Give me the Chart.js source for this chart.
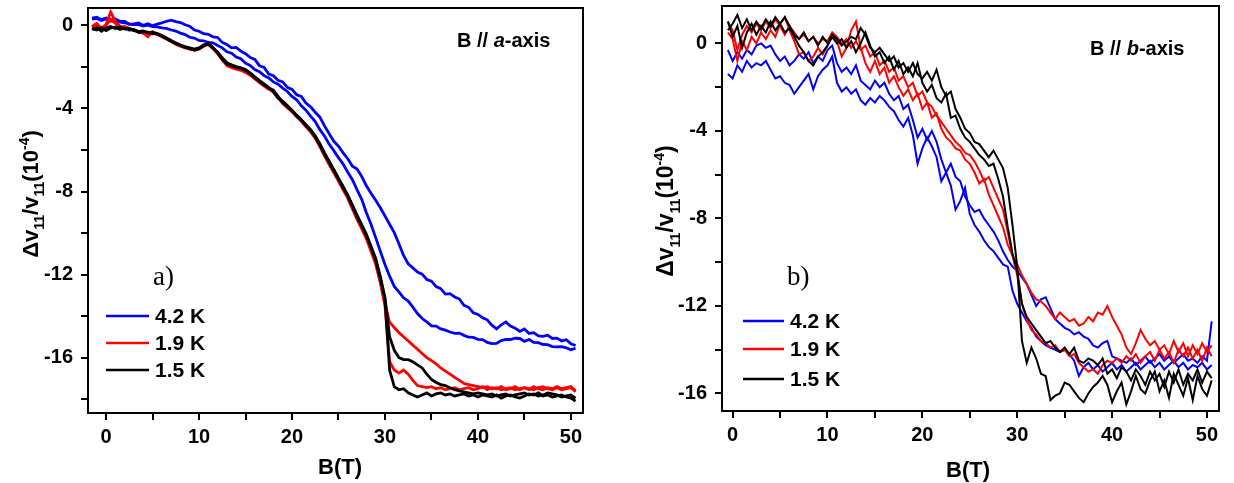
<!DOCTYPE html>
<html>
<head>
<meta charset="utf-8">
<title>Sound velocity change vs field</title>
<script src="https://cdn.jsdelivr.net/npm/chart.js@4.4.1/dist/chart.umd.min.js"></script>
<style>
  html, body { margin: 0; padding: 0; background: #fff; width: 1234px; height: 483px; overflow: hidden; }
  canvas { position: absolute; top: 0; }
  #ca { left: 0; }
  #cb { left: 620px; }
</style>
</head>
<body>
<canvas id="ca" width="610" height="483"></canvas>
<canvas id="cb" width="614" height="483"></canvas>
<script>
// Legend entries (temperatures) and their colours
const temps = ['4.2 K', '1.9 K', '1.5 K'];
const tempColors = ['#0000ff', '#ff0000', '#000000'];

// Axis tick labels
const xTickLabels = [0, 10, 20, 30, 40, 50];
const yTickLabels = [0, -4, -8, -12, -16];

// ---- Panel a: B // a-axis ----
const fieldA = [
  -1.5,-1,-0.5,0,0.5,1,1.5,2,2.5,3,
  3.5,4,4.5,5,5.5,6,6.5,7,7.5,8,
  8.5,9,9.5,10,10.5,11,11.5,12,12.5,13,
  13.5,14,14.5,15,15.5,16,16.5,17,17.5,18,
  18.5,19,19.5,20,20.5,21,21.5,22,22.5,23,
  23.5,24,24.5,25,25.5,26,26.5,27,27.5,28,
  28.5,29,29.5,30,30.5,31,31.5,32,32.5,33,
  33.5,34,34.5,35,35.5,36,36.5,37,37.5,38,
  38.5,39,39.5,40,40.5,41,41.5,42,42.5,43,
  43.5,44,44.5,45,45.5,46,46.5,47,47.5,48,
  48.5,49,49.5,50,50.5
];
// 4.2 K, branch ending higher
const a42hi = [
  0.35,0.40,0.28,0.36,0.26,0.31,0.20,0.19,0.06,0.08,
  0.12,0.00,0.08,-0.02,0.06,0.12,0.20,0.25,0.18,0.14,
  0.03,-0.04,-0.22,-0.28,-0.40,-0.43,-0.55,-0.58,-0.82,-0.92,
  -1.08,-1.06,-1.24,-1.36,-1.54,-1.64,-1.94,-2.02,-2.34,-2.42,
  -2.64,-2.72,-2.98,-3.08,-3.34,-3.42,-3.74,-3.92,-4.18,-4.42,
  -4.84,-5.22,-5.58,-5.82,-6.14,-6.42,-6.78,-6.92,-7.28,-7.72,
  -8.08,-8.42,-8.78,-9.18,-9.58,-9.98,-10.52,-11.08,-11.48,-11.68,
  -11.88,-11.98,-12.24,-12.32,-12.58,-12.68,-12.94,-12.92,-13.08,-13.18,
  -13.48,-13.58,-13.84,-13.92,-14.08,-14.18,-14.44,-14.62,-14.42,-14.28,
  -14.48,-14.58,-14.74,-14.62,-14.84,-14.80,-14.96,-14.98,-14.92,-15.08,
  -15.06,-15.20,-15.14,-15.34,-15.42
];
// 4.2 K, branch ending lower
const a42lo = [
  0.30,0.34,0.24,0.31,0.20,0.26,0.16,0.13,0.06,0.04,
  0.04,-0.03,0.01,-0.06,-0.07,-0.12,-0.14,-0.22,-0.27,-0.37,
  -0.44,-0.57,-0.61,-0.72,-0.74,-0.82,-0.84,-0.97,-1.08,-1.27,
  -1.34,-1.52,-1.60,-1.82,-1.93,-2.12,-2.23,-2.42,-2.53,-2.72,
  -2.83,-3.02,-3.18,-3.42,-3.58,-3.87,-4.08,-4.37,-4.63,-5.02,
  -5.33,-5.72,-6.03,-6.37,-6.68,-7.07,-7.43,-7.92,-8.38,-9.02,
  -9.58,-10.22,-10.88,-11.52,-12.08,-12.57,-12.83,-13.12,-13.28,-13.57,
  -13.88,-14.12,-14.28,-14.47,-14.48,-14.62,-14.68,-14.77,-14.83,-14.82,
  -14.93,-15.02,-15.03,-15.12,-15.13,-15.27,-15.33,-15.32,-15.18,-15.12,
  -15.13,-15.07,-15.08,-15.22,-15.13,-15.27,-15.28,-15.37,-15.38,-15.47,
  -15.48,-15.47,-15.53,-15.62,-15.55
];
// 1.9 K, branch ending higher
const a19hi = [
  -0.05,0.10,-0.15,0.05,0.65,0.20,-0.05,-0.10,-0.18,-0.20,
  -0.28,-0.35,-0.55,-0.30,-0.40,-0.50,-0.62,-0.74,-0.86,-0.96,
  -1.04,-1.10,-1.16,-1.10,-0.96,-0.88,-1.08,-1.34,-1.64,-1.90,
  -2.00,-2.06,-2.12,-2.22,-2.36,-2.54,-2.72,-2.88,-3.04,-3.16,
  -3.44,-3.70,-3.90,-4.10,-4.34,-4.58,-4.84,-5.08,-5.40,-5.80,
  -6.24,-6.64,-7.04,-7.44,-7.86,-8.26,-8.78,-9.28,-9.72,-10.20,
  -10.80,-11.40,-12.30,-13.40,-14.30,-14.55,-14.80,-15.00,-15.20,-15.40,
  -15.60,-15.80,-16.00,-16.15,-16.30,-16.50,-16.65,-16.80,-16.95,-17.10,
  -17.25,-17.30,-17.35,-17.40,-17.45,-17.40,-17.50,-17.45,-17.55,-17.50,
  -17.45,-17.55,-17.50,-17.45,-17.55,-17.40,-17.50,-17.55,-17.45,-17.50,
  -17.40,-17.50,-17.45,-17.40,-17.60
];
// 1.9 K, branch ending lower
const a19lo = [
  -0.10,0.05,-0.20,0.00,0.30,0.10,-0.10,-0.05,-0.15,-0.22,
  -0.30,-0.38,-0.48,-0.36,-0.44,-0.54,-0.66,-0.78,-0.90,-1.00,
  -1.08,-1.14,-1.20,-1.14,-1.00,-0.92,-1.12,-1.36,-1.66,-1.94,
  -2.04,-2.10,-2.16,-2.26,-2.40,-2.58,-2.76,-2.92,-3.08,-3.20,
  -3.48,-3.76,-3.96,-4.16,-4.40,-4.62,-4.88,-5.12,-5.44,-5.84,
  -6.28,-6.70,-7.10,-7.50,-7.92,-8.32,-8.84,-9.34,-9.80,-10.28,
  -10.88,-11.50,-12.40,-13.50,-16.20,-16.60,-16.75,-16.60,-16.80,-17.10,
  -17.35,-17.40,-17.45,-17.40,-17.50,-17.45,-17.55,-17.50,-17.45,-17.55,
  -17.50,-17.45,-17.55,-17.50,-17.40,-17.55,-17.45,-17.50,-17.40,-17.55,
  -17.50,-17.40,-17.55,-17.45,-17.50,-17.55,-17.45,-17.40,-17.50,-17.55,
  -17.45,-17.55,-17.50,-17.45,-17.65
];
// 1.5 K, branch ending higher
const a15hi = [
  -0.15,-0.22,-0.10,-0.25,-0.12,-0.08,-0.20,-0.12,-0.22,-0.20,
  -0.34,-0.30,-0.32,-0.40,-0.38,-0.48,-0.60,-0.72,-0.84,-0.94,
  -1.02,-1.08,-1.14,-1.08,-0.94,-0.90,-1.10,-1.28,-1.56,-1.80,
  -1.90,-1.98,-2.04,-2.12,-2.28,-2.48,-2.66,-2.82,-2.98,-3.20,
  -3.50,-3.64,-3.86,-4.08,-4.32,-4.54,-4.78,-5.02,-5.32,-5.70,
  -6.14,-6.54,-6.94,-7.36,-7.76,-8.18,-8.66,-9.14,-9.60,-10.06,
  -10.64,-11.22,-12.10,-13.10,-15.00,-15.65,-16.00,-16.10,-16.10,-16.20,
  -16.35,-16.50,-16.80,-17.05,-17.20,-17.30,-17.35,-17.45,-17.55,-17.60,
  -17.65,-17.70,-17.75,-17.70,-17.75,-17.80,-17.75,-17.85,-17.80,-17.75,
  -17.85,-17.80,-17.75,-17.70,-17.80,-17.75,-17.85,-17.80,-17.70,-17.75,
  -17.80,-17.90,-17.85,-17.80,-17.95
];
// 1.5 K, branch ending lower
const a15lo = [
  -0.20,-0.10,-0.28,-0.12,-0.05,-0.15,-0.08,-0.18,-0.15,-0.25,
  -0.30,-0.26,-0.36,-0.33,-0.42,-0.52,-0.64,-0.76,-0.88,-0.97,
  -1.06,-1.12,-1.18,-1.12,-0.98,-0.86,-1.06,-1.32,-1.62,-1.86,
  -1.95,-2.02,-2.06,-2.16,-2.32,-2.52,-2.70,-2.86,-3.02,-3.12,
  -3.42,-3.72,-3.92,-4.12,-4.36,-4.56,-4.82,-5.06,-5.36,-5.76,
  -6.20,-6.60,-7.00,-7.40,-7.82,-8.22,-8.72,-9.22,-9.66,-10.12,
  -10.70,-11.30,-12.20,-13.20,-16.60,-17.40,-17.55,-17.50,-17.70,-17.80,
  -17.90,-17.80,-17.70,-17.85,-17.75,-17.70,-17.80,-17.75,-17.85,-17.80,
  -17.75,-17.85,-17.80,-17.90,-17.80,-17.85,-17.90,-17.80,-17.95,-17.85,
  -17.80,-17.90,-17.95,-17.85,-17.75,-17.80,-17.70,-17.85,-17.80,-17.90,
  -17.85,-17.80,-17.90,-17.95,-18.10
];

// ---- Panel b: B // b-axis ----
const fieldB = [
  -0.5,0,0.5,1,1.5,2,2.5,3,3.5,4,
  4.5,5,5.5,6,6.5,7,7.5,8,8.5,9,
  9.5,10,10.5,11,11.5,12,12.5,13,13.5,14,
  14.5,15,15.5,16,16.5,17,17.5,18,18.5,19,
  19.5,20,20.5,21,21.5,22,22.5,23,23.5,24,
  24.5,25,25.5,26,26.5,27,27.5,28,28.5,29,
  29.5,30,30.5,31,31.5,32,32.5,33,33.5,34,
  34.5,35,35.5,36,36.5,37,37.5,38,38.5,39,
  39.5,40,40.5,41,41.5,42,42.5,43,43.5,44,
  44.5,45,45.5,46,46.5,47,47.5,48,48.5,49,
  49.5,50,50.5
];
const b42hi = [
  -0.3,-0.8,-0.4,-0.7,-0.3,-0.5,-0.1,0.0,-0.2,-0.1,
  -0.5,-0.8,-0.6,-1.0,-0.8,-0.5,-0.7,-0.4,-0.9,-0.6,
  -0.8,-0.3,-0.1,-0.9,-1.3,-1.1,-1.4,-1.0,-1.7,-1.9,
  -2.1,-1.7,-2.0,-1.8,-2.3,-2.6,-2.4,-3.0,-2.8,-3.5,
  -4.3,-3.9,-4.4,-4.0,-4.5,-5.3,-5.9,-5.5,-6.1,-6.3,
  -7.0,-7.4,-7.7,-7.6,-8.0,-8.3,-8.6,-9.0,-9.5,-9.9,
  -10.2,-10.4,-10.7,-11.0,-11.5,-12.0,-11.7,-11.6,-12.1,-12.6,
  -12.8,-13.0,-13.1,-13.3,-13.2,-13.4,-13.5,-13.8,-13.9,-13.7,
  -13.6,-14.3,-14.4,-14.5,-14.6,-14.4,-14.7,-14.5,-14.3,-14.6,
  -14.4,-14.2,-14.5,-14.3,-14.6,-14.4,-14.2,-14.5,-14.4,-14.6,
  -14.3,-14.5,-12.7
];
const b42lo = [
  -1.4,-1.6,-1.0,-1.3,-0.8,-1.1,-0.9,-1.0,-0.8,-1.2,
  -1.6,-1.5,-1.8,-1.9,-2.3,-2.0,-1.7,-1.4,-2.1,-1.5,
  -1.2,-1.0,-0.6,-1.8,-2.2,-2.0,-2.3,-2.1,-2.6,-2.8,
  -2.5,-2.7,-2.4,-2.6,-2.9,-3.1,-3.5,-3.8,-3.4,-4.2,
  -5.5,-4.8,-4.3,-4.7,-5.2,-6.3,-5.9,-6.5,-7.6,-7.2,
  -6.6,-7.8,-8.3,-8.6,-9.0,-9.3,-9.5,-9.8,-10.1,-10.2,
  -11.3,-11.9,-12.3,-12.7,-13.0,-13.4,-13.6,-13.8,-13.9,-14.0,
  -14.1,-14.0,-14.2,-14.5,-15.2,-14.8,-14.6,-14.9,-14.7,-15.0,
  -14.8,-14.6,-14.9,-14.7,-15.0,-14.8,-14.6,-14.9,-14.7,-14.5,
  -14.8,-14.6,-14.9,-14.7,-14.5,-14.8,-14.6,-14.9,-14.7,-14.8,
  -14.6,-14.9,-14.7
];
const b19hi = [
  0.5,0.2,-0.8,0.1,-0.3,0.3,0.0,0.5,0.2,0.6,
  0.3,0.9,1.2,0.6,0.1,-0.5,-0.4,-0.8,-0.6,-0.2,
  -0.5,-0.1,0.4,0.1,-0.6,-0.2,0.6,1.0,-0.2,-0.9,
  -1.3,-0.8,-1.4,-1.1,-1.8,-1.5,-2.0,-2.4,-2.1,-2.6,
  -2.3,-3.0,-2.7,-3.4,-3.2,-3.9,-4.3,-4.5,-4.8,-4.9,
  -5.3,-5.5,-5.9,-6.4,-6.2,-6.9,-7.4,-7.9,-8.4,-9.2,
  -9.7,-10.1,-10.6,-11.0,-11.4,-11.7,-11.8,-12.0,-12.3,-12.6,
  -12.3,-12.5,-12.7,-12.6,-12.9,-12.8,-12.5,-12.7,-12.3,-12.4,
  -12.0,-12.5,-12.9,-13.3,-13.9,-14.2,-13.7,-13.1,-13.5,-13.8,
  -13.6,-14.0,-13.8,-14.2,-13.6,-14.1,-13.7,-14.3,-13.8,-14.2,
  -13.7,-14.1,-13.8
];
const b19lo = [
  1.0,0.6,-0.3,0.4,0.8,0.5,0.9,0.6,1.0,0.7,
  1.1,0.8,0.4,0.8,0.5,0.2,0.4,0.1,0.3,0.0,
  0.2,0.1,0.5,0.3,0.0,0.2,-0.2,0.1,-0.3,-0.1,
  -0.6,-0.4,-1.0,-0.8,-1.3,-1.1,-1.7,-1.5,-2.0,-1.8,
  -2.4,-2.2,-2.7,-2.9,-3.3,-3.6,-3.9,-4.2,-4.5,-4.7,
  -5.0,-5.1,-5.4,-5.8,-6.3,-6.1,-6.6,-7.1,-7.6,-8.6,
  -9.7,-10.6,-11.9,-12.6,-13.1,-13.3,-13.6,-13.7,-13.9,-13.8,
  -14.1,-14.0,-14.3,-14.2,-14.6,-14.8,-15.0,-14.9,-15.1,-14.7,
  -14.5,-14.6,-14.4,-14.6,-14.3,-14.5,-14.2,-14.6,-14.3,-14.1,
  -14.5,-14.0,-14.4,-14.1,-14.6,-14.0,-14.3,-13.9,-14.4,-14.0,
  -14.5,-13.9,-14.3
];
const b15a = [
  0.6,0.9,1.3,0.7,1.1,0.6,1.0,0.7,1.1,0.8,
  1.2,0.9,1.2,0.8,0.4,0.2,0.5,0.1,0.3,-0.1,
  0.3,0.0,0.4,0.2,-0.1,0.1,0.3,0.2,0.7,0.4,
  -0.2,-0.4,-0.2,-0.5,-0.8,-0.6,-1.1,-0.9,-1.3,-0.9,
  -1.4,-1.6,-1.3,-1.7,-1.2,-2.0,-2.4,-2.2,-3.0,-3.4,
  -3.9,-4.1,-4.5,-4.6,-4.9,-5.2,-4.9,-5.3,-5.7,-6.6,
  -8.3,-10.2,-13.6,-14.6,-13.9,-14.4,-15.1,-15.2,-16.3,-16.1,
  -16.0,-15.5,-15.6,-15.9,-16.2,-16.4,-16.0,-15.7,-15.5,-15.2,
  -15.6,-16.4,-15.9,-15.5,-16.5,-15.9,-15.2,-15.8,-16.0,-15.4,
  -15.0,-15.9,-15.4,-16.2,-15.1,-15.6,-16.1,-15.3,-16.3,-15.2,
  -15.8,-16.1,-15.4
];
const b15b = [
  1.0,0.3,0.8,-0.2,0.5,0.9,0.4,0.8,0.5,1.0,
  0.6,0.9,0.5,0.7,0.3,-0.1,-0.4,-0.8,-1.0,-0.6,
  -0.4,-0.1,0.3,0.0,0.2,-0.2,0.1,-0.4,0.0,0.5,
  -0.1,-0.6,-0.4,-0.9,-0.6,-1.2,-0.8,-1.4,-1.1,-1.5,
  -0.9,-1.8,-2.2,-1.9,-2.5,-2.7,-2.3,-3.4,-3.3,-3.9,
  -4.3,-4.5,-4.8,-5.1,-5.3,-5.6,-5.5,-6.2,-7.0,-8.4,
  -9.6,-10.4,-11.9,-12.5,-12.8,-13.1,-13.4,-13.7,-13.6,-13.9,
  -14.1,-13.9,-14.2,-13.9,-14.5,-14.6,-14.4,-14.5,-14.7,-14.4,
  -15.1,-14.9,-15.3,-14.8,-15.0,-15.4,-14.9,-15.2,-15.6,-15.0,
  -15.4,-15.1,-15.7,-15.0,-15.5,-14.9,-15.6,-15.1,-15.4,-14.9,
  -15.5,-15.0,-15.3
];

const FONT = 'Arial, "Liberation Sans", Helvetica, sans-serif';

// Frame, legend, panel tag, field direction and axis titles
const panelDecor = {
  id: 'panelDecor',
  afterDraw(chart, _args, o) {
    const ctx = chart.ctx;
    const a = chart.chartArea;
    ctx.save();
    ctx.strokeStyle = '#000';
    ctx.lineWidth = 2;
    ctx.strokeRect(a.left, a.top, a.right - a.left, a.bottom - a.top);

    // legend
    ctx.font = 'bold 21px ' + FONT;
    ctx.textBaseline = 'middle';
    ctx.textAlign = 'left';
    temps.forEach((t, i) => {
      const y = o.legendY[i];
      ctx.strokeStyle = tempColors[i];
      ctx.lineWidth = 2.5;
      ctx.beginPath();
      ctx.moveTo(o.legendX, y);
      ctx.lineTo(o.legendX + o.legendLen, y);
      ctx.stroke();
      ctx.fillStyle = '#000';
      ctx.fillText(t, o.legendX + o.legendLen + 6, y + 1);
    });

    // panel tag
    ctx.font = '27px "Liberation Serif", "Times New Roman", serif';
    ctx.textBaseline = 'alphabetic';
    ctx.fillText(o.tag, o.tagX, o.tagY);

    // field direction
    ctx.textBaseline = 'middle';
    let x = o.dirX;
    const parts = [['B // ', 'bold'], [o.dirAxis, 'italic bold'], ['-axis', 'bold']];
    parts.forEach(([s, w]) => {
      ctx.font = w + ' 20px ' + FONT;
      ctx.fillText(s, x, o.dirY);
      x += ctx.measureText(s).width;
    });

    // x title
    ctx.font = 'bold 22px ' + FONT;
    ctx.textAlign = 'center';
    ctx.fillText('B(T)', o.xTitleX, o.xTitleY);

    // y title with sub/superscripts, rotated
    const size = o.yTitleSize;
    const segs = [
      ['\u0394v', 'n'], ['11', 'sub'], ['/v', 'n'], ['11', 'sub'],
      ['(10', 'n'], ['-4', 'sup'], [')', 'n']
    ];
    const fontFor = k => 'bold ' + (k === 'n' ? size : Math.round(size * 0.62)) + 'px ' + FONT;
    let total = 0;
    segs.forEach(([s, k]) => { ctx.font = fontFor(k); total += ctx.measureText(s).width; });
    ctx.translate(o.yTitleX, o.yTitleY);
    ctx.rotate(-Math.PI / 2);
    ctx.textAlign = 'left';
    ctx.textBaseline = 'alphabetic';
    let px = -total / 2;
    const base = size * 0.36;
    segs.forEach(([s, k]) => {
      ctx.font = fontFor(k);
      const dy = k === 'sub' ? size * 0.28 : (k === 'sup' ? -size * 0.42 : 0);
      ctx.fillText(s, px, base + dy);
      px += ctx.measureText(s).width;
    });
    ctx.restore();
  }
};

function series(field, vals, color, width) {
  return {
    data: field.map((b, i) => ({ x: b, y: vals[i] })),
    borderColor: color,
    borderWidth: width,
    pointRadius: 0,
    tension: 0,
    fill: false
  };
}

function axisCommon(stepSize, labels) {
  return {
    type: 'linear',
    ticks: {
      stepSize: stepSize,
      includeBounds: false,
      autoSkip: false,
      maxRotation: 0,
      color: '#000',
      font: { family: FONT, size: 20, weight: 'bold' },
      callback: v => (labels.includes(v) ? String(v) : '')
    },
    grid: { drawOnChartArea: false, drawTicks: true, tickLength: 7, color: '#000', lineWidth: 2 },
    border: { display: true, color: '#000', width: 2 }
  };
}

function makePanel(id, cfg) {
  const x = axisCommon(5, xTickLabels);
  x.min = cfg.xMin; x.max = cfg.xMax;
  x.ticks.padding = cfg.xPad;
  x.afterFit = s => { s.height = cfg.xAxisH; s.paddingLeft = 0; s.paddingRight = 0; };
  const y = axisCommon(2, yTickLabels);
  y.min = cfg.yMin; y.max = cfg.yMax;
  y.ticks.padding = 8;
  y.afterFit = s => { s.width = cfg.yAxisW; s.paddingTop = 0; s.paddingBottom = 0; };

  return new Chart(document.getElementById(id), {
    type: 'line',
    data: { datasets: cfg.datasets },
    options: {
      responsive: false,
      devicePixelRatio: 1,
      animation: false,
      events: [],
      layout: { padding: { left: 0, right: cfg.padR, top: cfg.padT, bottom: 0 } },
      scales: { x: x, y: y },
      plugins: { legend: { display: false }, tooltip: { enabled: false }, panelDecor: cfg.decor }
    },
    plugins: [panelDecor]
  });
}

makePanel('ca', {
  xMin: -1.94, xMax: 51.3, yMin: -18.67, yMax: 0.84,
  xAxisH: 70, yAxisW: 88, padR: 27, padT: 8, xPad: 5,
  datasets: [
    series(fieldA, a15lo, tempColors[2], 2.8),
    series(fieldA, a15hi, tempColors[2], 2.8),
    series(fieldA, a19lo, tempColors[1], 2.8),
    series(fieldA, a19hi, tempColors[1], 2.8),
    series(fieldA, a42lo, tempColors[0], 2.8),
    series(fieldA, a42hi, tempColors[0], 2.8)
  ],
  decor: {
    legendX: 106, legendLen: 43, legendY: [316, 343, 370],
    tag: 'a)', tagX: 153, tagY: 285,
    dirAxis: 'a', dirX: 457, dirY: 41,
    xTitleX: 340, xTitleY: 468,
    yTitleX: 30, yTitleY: 194, yTitleSize: 22
  }
});

makePanel('cb', {
  xMin: -1.12, xMax: 51.27, yMin: -16.8, yMax: 1.71,
  xAxisH: 72, yAxisW: 102, padR: 15, padT: 6, xPad: 5,
  datasets: [
    series(fieldB, b15a, tempColors[2], 2),
    series(fieldB, b15b, tempColors[2], 2),
    series(fieldB, b19hi, tempColors[1], 2),
    series(fieldB, b19lo, tempColors[1], 2),
    series(fieldB, b42hi, tempColors[0], 2),
    series(fieldB, b42lo, tempColors[0], 2)
  ],
  decor: {
    legendX: 123, legendLen: 41, legendY: [321, 349, 379],
    tag: 'b)', tagX: 167, tagY: 285,
    dirAxis: 'b', dirX: 470, dirY: 49,
    xTitleX: 348, xTitleY: 471,
    yTitleX: 45, yTitleY: 211, yTitleSize: 23
  }
});
</script>
</body>
</html>
